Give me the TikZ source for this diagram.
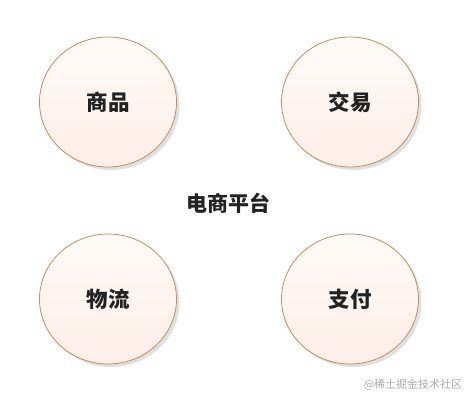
\documentclass[tikz,border=0pt]{standalone}
\usepackage{fontspec}
\newfontfamily\cjk{Noto Sans CJK SC}
\usetikzlibrary{positioning, shadows, shapes.geometric}
\definecolor{RingEdge}{RGB}{200, 137, 96}
\definecolor{RingFill}{RGB}{253, 238, 232}
\definecolor{RingTop}{RGB}{255, 250, 247}
\definecolor{TextDark}{RGB}{34, 34, 34}
\definecolor{MarkGray}{RGB}{170, 170, 170}

\begin{document}
\begin{tikzpicture}[x=1pt, y=-1pt,
    every node/.style={font=\cjk},
    module/.style={ellipse, draw=RingEdge, line width=0.8pt, top color=RingTop, bottom color=RingFill,
        minimum width=137pt, minimum height=130pt, inner sep=0pt,
        drop shadow={shadow xshift=3pt, shadow yshift=-3pt, opacity=0.12, fill=black},
        font=\cjk\bfseries\fontsize{21.5}{25}\selectfont, text=TextDark}]

        \useasboundingbox (0,0) rectangle (470,404);

        % --- MODULES ---
        \node[module] (goods) at (108, 102) {商品};
        \node[module] (trade) at (350, 102) {交易};
        \node[module] (logistics) at (108, 299) {物流};
        \node[module] (payment) at (350, 299) {支付};

        % --- PLATFORM ---
        \node[font=\cjk\bfseries\fontsize{21}{25}\selectfont, text=TextDark] (platform) at (228, 203) {电商平台};

        % watermark
        \node[font=\cjk\fontsize{11}{13}\selectfont, text=MarkGray] (mark) at (413, 385) {@稀土掘金技术社区};
    \end{tikzpicture}
\end{document}
